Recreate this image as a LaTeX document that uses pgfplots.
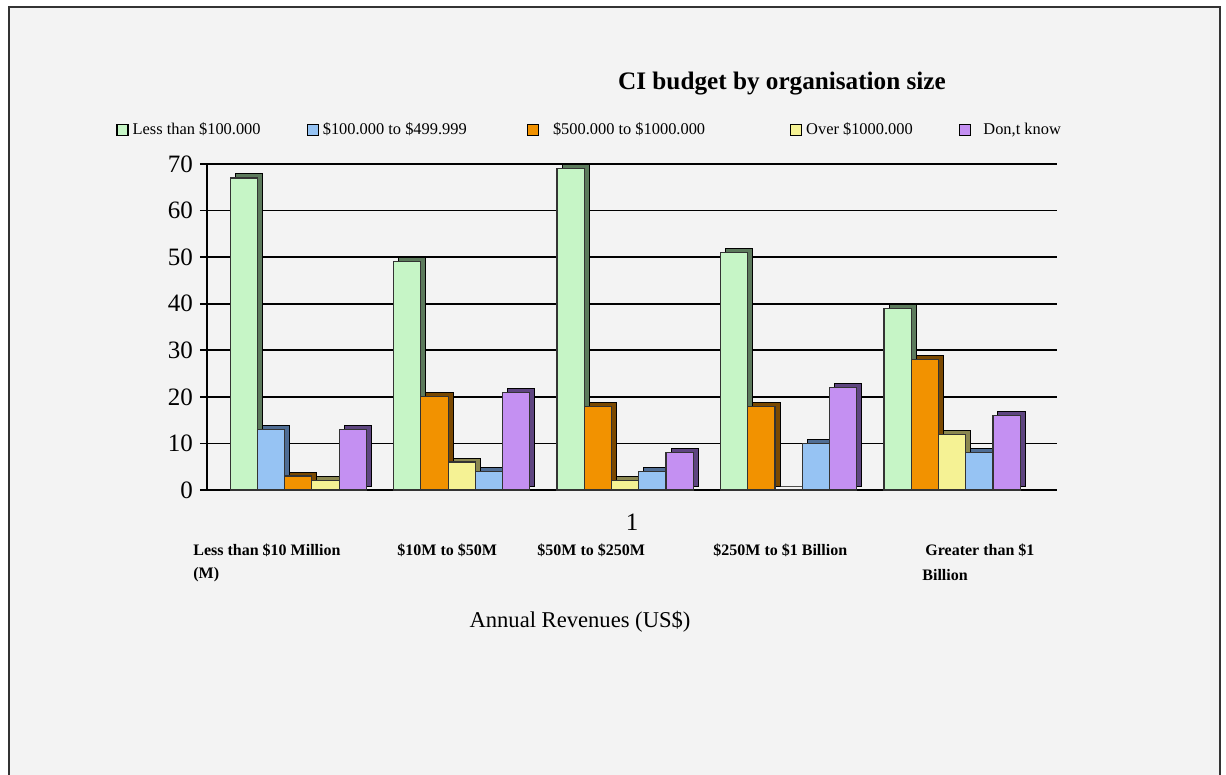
\documentclass[border=0pt]{standalone}
\usepackage{pgfplots}
\usepackage{pgfplotstable}
\pgfplotsset{compat=1.18}
\usepackage{fontspec}
\setmainfont{Liberation Serif}
\definecolor{bg}{HTML}{F3F3F3}
\definecolor{cgreen}{HTML}{C6F5C6}
\definecolor{dgreen}{HTML}{5C7A5C}
\definecolor{cblue}{HTML}{96C3F3}
\definecolor{dblue}{HTML}{4F6D94}
\definecolor{corange}{HTML}{F29200}
\definecolor{dorange}{HTML}{7A4800}
\definecolor{cyellow}{HTML}{F5F294}
\definecolor{dyellow}{HTML}{8A8750}
\definecolor{cpurple}{HTML}{C490F2}
\definecolor{dpurple}{HTML}{5E4580}

% x = position of the bar (group*6 + slot), y = value
\pgfplotstableread{
x y
0 67
6 49
12 69
18 51
24 39
}\tgreen
\pgfplotstableread{
x y
1 13
9 4
15 4
21 10
27 8
}\tblue
\pgfplotstableread{
x y
2 3
7 20
13 18
19 18
25 28
}\torange
\pgfplotstableread{
x y
3 2
8 6
14 2
20 0
26 12
}\tyellow
\pgfplotstableread{
x y
4 13
10 21
16 8
22 22
28 16
}\tpurple

\begin{document}
\begin{tikzpicture}[x=0.5pt,y=-0.5pt]
\path[use as bounding box, fill=white] (0,0) rectangle (1226,775);
\fill[bg] (9,7) rectangle (1220,775);
\draw[line width=1.2pt, black!80] (9,775) -- (9,7) -- (1220,7) -- (1220,775);

\begin{axis}[
  at={(103.5pt,-245pt)}, anchor=south west,
  scale only axis, width=425pt, height=163pt,
  xmin=-1.35, xmax=29.85, ymin=0, ymax=70,
  axis x line*=bottom, axis y line*=left,
  axis line style={line width=0.8pt, black},
  ytick={0,10,...,70},
  ymajorgrids, grid style={black, line width=0.8pt},
  xtick={14.25}, xticklabels={1},
  xtick style={draw=none},
  ytick style={black, line width=0.8pt},
  tick align=outside, major tick length=3.5pt,
  /pgf/number format/assume math mode=true,
  ticklabel style={font=\fontsize{12.5}{14}\selectfont},
  xticklabel style={yshift=-5pt},
  clip=false,
  bar width=1,
  legend image code/.code={\draw[#1, line width=0.6pt] (0pt,-2.75pt) rectangle (5.5pt,2.75pt);},
  legend style={at={(-0.1141,1.104)}, anchor=west, draw=none, fill=none,
    font=\fontsize{8.2}{9.8}\selectfont, legend columns=5,
    /tikz/every even column/.append style={column sep=0pt}},
]
% depth (side/top faces)
\addplot[ybar, bar shift=0pt, fill=dgreen, draw=black, line width=0.5pt, xshift=2.5pt, yshift=2pt, forget plot] table {\tgreen};
\addplot[ybar, bar shift=0pt, fill=dblue, draw=black, line width=0.5pt, xshift=2.5pt, yshift=2pt, forget plot] table {\tblue};
\addplot[ybar, bar shift=0pt, fill=dorange, draw=black, line width=0.5pt, xshift=2.5pt, yshift=2pt, forget plot] table {\torange};
\addplot[ybar, bar shift=0pt, fill=dyellow, draw=black, line width=0.5pt, xshift=2.5pt, yshift=2pt, forget plot] table {\tyellow};
\addplot[ybar, bar shift=0pt, fill=dpurple, draw=black, line width=0.5pt, xshift=2.5pt, yshift=2pt, forget plot] table {\tpurple};
% front faces
\addplot[ybar, bar shift=0pt, fill=cgreen, draw=black!80, line width=0.6pt, forget plot] table {\tgreen};
\addplot[ybar, bar shift=0pt, fill=cblue, draw=black!80, line width=0.6pt, forget plot] table {\tblue};
\addplot[ybar, bar shift=0pt, fill=corange, draw=black!80, line width=0.6pt, forget plot] table {\torange};
\addplot[ybar, bar shift=0pt, fill=cyellow, draw=black!80, line width=0.6pt, forget plot] table {\tyellow};
\addplot[ybar, bar shift=0pt, fill=cpurple, draw=black!80, line width=0.6pt, forget plot] table {\tpurple};

\addlegendimage{fill=cgreen, draw=black}
\addlegendentry{\makebox[85pt][l]{Less than \$100.000}}
\addlegendimage{fill=cblue, draw=black}
\addlegendentry{\makebox[100pt][l]{\$100.000 to \$499.999}}
\addlegendimage{fill=corange, draw=black}
\addlegendentry{\makebox[121.5pt][l]{\hspace{5pt}\$500.000 to \$1000.000}}
\addlegendimage{fill=cyellow, draw=black}
\addlegendentry{\makebox[74.5pt][l]{Over \$1000.000}}
\addlegendimage{fill=cpurple, draw=black}
\addlegendentry{\hspace{4pt}Don,t know}
\end{axis}

\node[font=\bfseries\fontsize{12.6}{15}\selectfont] at (782,84) {CI budget by organisation size};
\begin{scope}[every node/.style={anchor=west, inner sep=0pt, font=\bfseries\fontsize{8}{10}\selectfont}]
\node at (193,550) {Less than \$10 Million};
\node at (193,575) {(M)};
\node at (397,550) {\$10M to \$50M};
\node at (537,550) {\$50M to \$250M};
\node at (713,550) {\$250M to \$1 Billion};
\node at (925,550) {Greater than \$1};
\node at (922,575) {Billion};
\end{scope}
\node[font=\fontsize{11.3}{13}\selectfont] at (580,622) {Annual Revenues (US\$)};
\end{tikzpicture}
\end{document}
